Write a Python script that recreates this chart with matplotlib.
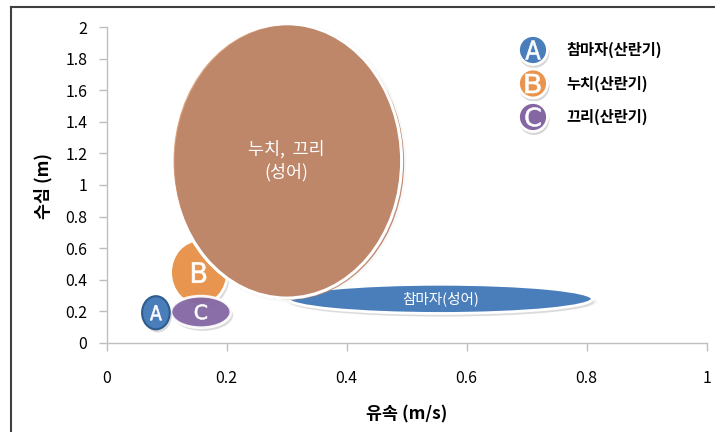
import matplotlib
matplotlib.use("Agg")
import matplotlib.pyplot as plt
from matplotlib.patches import Ellipse, PathPatch
from matplotlib.lines import Line2D
from matplotlib.textpath import TextPath
from matplotlib.font_manager import FontProperties
from matplotlib.transforms import offset_copy, Affine2D, ScaledTranslation

plt.rcParams['font.family'] = ['Noto Sans CJK KR', 'DejaVu Sans']

# Spawning-season habitat ranges (velocity m/s, depth m)
spawn_keys = ['A', 'B', 'C']
spawn_names = ['참마자(산란기)', '누치(산란기)', '끄리(산란기)']
spawn_vel = [0.082, 0.154, 0.157]
spawn_depth = [0.19, 0.445, 0.195]
spawn_vel_span = [0.046, 0.095, 0.100]
spawn_depth_span = [0.21, 0.41, 0.20]
spawn_colors = ['#4A7EBB', '#E8964F', '#8466A3']

# Adult habitat ranges
adult_names = ['참마자(성어)', '누치,  끄리\n(성어)']
adult_vel = [0.556, 0.300]
adult_depth = [0.278, 1.153]
adult_vel_span = [0.507, 0.383]
adult_depth_span = [0.185, 1.74]
adult_colors = ['#4A7EBB', '#BC8569']

x_ticks = [0, 0.2, 0.4, 0.6, 0.8, 1.0]
x_ticklabels = ['0', '0.2', '0.4', '0.6', '0.8', '1']
y_ticks = [0, 0.2, 0.4, 0.6, 0.8, 1.0, 1.2, 1.4, 1.6, 1.8, 2.0]
y_ticklabels = ['0', '0.2', '0.4', '0.6', '0.8', '1', '1.2', '1.4', '1.6', '1.8', '2']

W, H = 715, 432
fig = plt.figure(figsize=(W / 100, H / 100), dpi=100)
ax = fig.add_axes([106.7 / W, 1 - 342.7 / H, 600 / W, 315.4 / H])
ax.set_xlim(0, 1)
ax.set_ylim(0, 2)

for side in ('top', 'right'):
    ax.spines[side].set_visible(False)
for side in ('left', 'bottom'):
    ax.spines[side].set_color('#BFBFBF')
    ax.spines[side].set_linewidth(1.0)

ax.set_xticks(x_ticks)
ax.set_xticklabels(x_ticklabels)
ax.set_yticks(y_ticks)
ax.set_yticklabels(y_ticklabels)
ax.tick_params(axis='both', color='#BFBFBF', labelcolor='black', length=6,
               width=1, labelsize=11.5)
ax.tick_params(axis='x', pad=14)
ax.tick_params(axis='y', pad=8)

glyph_font = FontProperties(family='DejaVu Sans')


def narrow_letter(s, xy, base, w_px, h_px, z, parent):
    """White letter squeezed into a w_px x h_px box centred on xy."""
    tp = TextPath((0, 0), s, size=40, prop=glyph_font)
    bb = tp.get_extents()
    t = (Affine2D()
         .translate(-(bb.x0 + bb.x1) / 2, -(bb.y0 + bb.y1) / 2)
         .scale(w_px / bb.width, h_px / bb.height)
         + ScaledTranslation(xy[0], xy[1], base))
    p = PathPatch(tp, transform=t, facecolor='white', edgecolor='white',
                  linewidth=0.4, zorder=z)
    parent.add_artist(p)


def shadow(xy, w, h, z, dx=2, dy=-3, a=0.22):
    tr = offset_copy(ax.transData, fig=fig, x=dx, y=dy, units='dots')
    for grow, alpha in ((1.0, a), (1.02, a * 0.35)):
        ax.add_patch(Ellipse(xy, w * grow, h * grow, transform=tr,
                             facecolor='#808080', edgecolor='none',
                             alpha=alpha, zorder=z, clip_on=False))


def bubble(xy, w, h, color, z, alpha=0.93, edge='white', lw=2.0):
    shadow(xy, w, h, z - 0.1)
    e = Ellipse(xy, w, h, facecolor=color, edgecolor=edge, linewidth=lw,
                alpha=alpha, zorder=z, clip_on=False)
    ax.add_patch(e)
    return e


# spawning-season bubbles
z_order = [3.2, 2.0, 3.0]
letter_box = [(11.5, 15), (14, 20.5), (12, 15)]
for i, key in enumerate(spawn_keys):
    xy = (spawn_vel[i], spawn_depth[i])
    edge = '#2E5C8F' if key == 'A' else 'white'
    bubble(xy, spawn_vel_span[i], spawn_depth_span[i], spawn_colors[i],
           z_order[i], alpha=1.0 if key != 'C' else 0.93, edge=edge,
           lw=1.5 if key == 'A' else 2.0)
    narrow_letter(key, xy, ax.transData, letter_box[i][0], letter_box[i][1],
                  z_order[i] + 0.05, ax)

# adult bubbles
xy = (adult_vel[0], adult_depth[0])
bubble(xy, adult_vel_span[0], adult_depth_span[0], adult_colors[0], 4.0,
       alpha=1.0)
ax.text(xy[0], xy[1], adult_names[0], color='white', fontsize=10.5,
        ha='center', va='center', zorder=4.1)

xy = (adult_vel[1], adult_depth[1])
shadow(xy, adult_vel_span[1], adult_depth_span[1], 4.9, dx=2.5, dy=-1.5, a=0.14)
base = Ellipse(xy, adult_vel_span[1], adult_depth_span[1],
               facecolor='#DDA47C', edgecolor='white', linewidth=2.2,
               alpha=0.93, zorder=5.0, clip_on=False)
ax.add_patch(base)
tr = offset_copy(ax.transData, fig=fig, x=2.5, y=-1.5, units='dots')
top = Ellipse(xy, adult_vel_span[1], adult_depth_span[1], transform=tr,
              facecolor=adult_colors[1], edgecolor='none', alpha=0.93,
              zorder=5.1, clip_on=False)
ax.add_patch(top)
top.set_clip_path(base)
rim = Ellipse(xy, adult_vel_span[1], adult_depth_span[1], facecolor='none',
              edgecolor='white', linewidth=2.2, zorder=5.2, clip_on=False)
ax.add_patch(rim)
ax.text(xy[0], xy[1], adult_names[1], color='white', fontsize=12.5,
        ha='center', va='center', linespacing=1.3, zorder=5.3)

# legend
leg_x = 533
leg_y = [50, 83.5, 117]
for i, key in enumerate(spawn_keys):
    cx, cy = leg_x / W, 1 - leg_y[i] / H
    sh = offset_copy(fig.transFigure, fig=fig, x=1, y=-2.5, units='dots')
    fig.add_artist(Ellipse((cx, cy), 31 / W, 31 / H, transform=sh,
                           facecolor='#8C8C8C', edgecolor='none', alpha=0.35))
    fig.add_artist(Ellipse((cx, cy), 29 / W, 29 / H, transform=fig.transFigure,
                           facecolor=spawn_colors[i], edgecolor='white',
                           linewidth=2.0))
    narrow_letter(key, (cx, cy), fig.transFigure, 15, 19, 3, fig)
    fig.text(566.5 / W, cy, spawn_names[i], color='black', fontsize=11,
             fontweight='bold', ha='left', va='center')

# axis titles
fig.text(406.7 / W, 1 - 414 / H, '유속 (m/s)', fontsize=12.5,
         fontweight='bold', ha='center', va='center')
fig.text(43 / W, 1 - 186 / H, '수심 (m)', fontsize=12.5, fontweight='bold',
         rotation=90, ha='center', va='center')

# outer frame
fig.add_artist(Line2D([11 / W, 11 / W], [0, 1 - 7 / H],
                      transform=fig.transFigure, color='#404040', lw=1.5))
fig.add_artist(Line2D([11 / W, 1], [1 - 7 / H, 1 - 7 / H],
                      transform=fig.transFigure, color='#404040', lw=1.5))

fig.savefig('out.png', dpi=100)
